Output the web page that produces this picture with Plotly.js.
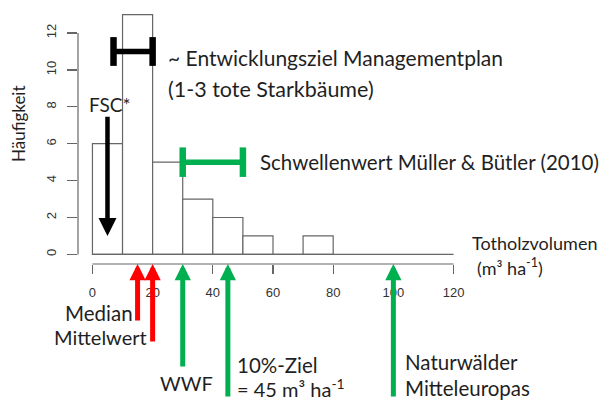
<!DOCTYPE html>
<html>
<head>
<meta charset="utf-8">
<script src="https://cdn.plot.ly/plotly-3.0.1.min.js"></script>
<style>html,body{margin:0;padding:0;background:#fff;}#chart{width:606px;height:401px;}</style>
</head>
<body>
<div id="chart"></div>
<script>
// ---- data ----
const binEdges = [0, 10, 20, 30, 40, 50, 60, 70, 80];
const counts = [6, 13, 5, 3, 2, 1, 0, 1];
const xTicks = [0, 20, 40, 60, 80, 100, 120];
const yTicks = [0, 2, 4, 6, 8, 10, 12];
const refLabels = ['Median', 'Mittelwert', 'WWF', '10%-Ziel', 'Naturwälder'];
const refValues = [15, 20, 30, 45, 100];
const refColors = ['#FF0000', '#FF0000', '#00B050', '#00B050', '#00B050'];
const fscX = 5;
const fscFromTo = [7.55, 1];
const entwicklungRange = [7, 20];
const entwicklungLevel = 11;
const schwellenRange = [30, 50];
const schwellenLevel = 5;

// ---- layout helpers ----
const W = 606, H = 401;
const M = {l: 78, r: 138, t: 5, b: 137};
const pw = W - M.l - M.r, ph = H - M.t - M.b;
function P(px, py) { return {x: (px - M.l) / pw, y: (H - M.b - py) / ph}; }
const FONT = 'Lato, sans-serif';
const TXT = '#1f1f1f';
const GRAY = '#666666';

const centers = counts.map((c, i) => (binEdges[i] + binEdges[i + 1]) / 2);
const widths = counts.map((c, i) => binEdges[i + 1] - binEdges[i]);

const traces = [{
  type: 'bar', x: centers, y: counts, width: widths,
  marker: {color: 'white', line: {color: GRAY, width: 1.2}},
  hoverinfo: 'skip', showlegend: false
}];

const shapes = [];
// axes lines (R style, spanning tick range only)
shapes.push({type: 'line', xref: 'x', yref: 'paper', x0: xTicks[0], x1: xTicks[xTicks.length - 1], y0: 0, y1: 0, line: {color: GRAY, width: 1.2}});
shapes.push({type: 'line', xref: 'paper', yref: 'y', x0: 0, x1: 0, y0: yTicks[0], y1: yTicks[yTicks.length - 1], line: {color: GRAY, width: 1.2}});
// histogram baseline
shapes.push({type: 'line', xref: 'x', yref: 'y', x0: binEdges[0], x1: xTicks[xTicks.length - 1], y0: 0, y1: 0, line: {color: GRAY, width: 1.2}});
// brackets
function bracket(r, lvl, half, color) {
  shapes.push({type: 'line', xref: 'x', yref: 'y', x0: r[0], x1: r[1], y0: lvl, y1: lvl, line: {color: color, width: 5.5}});
  shapes.push({type: 'line', xref: 'x', yref: 'y', x0: r[0], x1: r[0], y0: lvl - half, y1: lvl + half, line: {color: color, width: 6.5}});
  shapes.push({type: 'line', xref: 'x', yref: 'y', x0: r[1], x1: r[1], y0: lvl - half, y1: lvl + half, line: {color: color, width: 6.5}});
}
bracket(entwicklungRange, entwicklungLevel, 0.78, '#000000');
bracket(schwellenRange, schwellenLevel, 0.8, '#00B050');

const ann = [];
// reference arrows below the x axis
const tails = [58, 79, 104, 134, 134];
refValues.forEach((v, i) => {
  ann.push({x: v, y: 0, xref: 'x', yref: 'paper', text: '', showarrow: true,
    ax: 0, ay: tails[i], arrowcolor: refColors[i], arrowwidth: 5, arrowhead: 2, arrowsize: 0.65});
});
// FSC arrow
ann.push({x: fscX, y: fscFromTo[1], xref: 'x', yref: 'y', axref: 'x', ayref: 'y', ax: fscX, ay: fscFromTo[0],
  text: '', showarrow: true, arrowcolor: '#000', arrowwidth: 4.5, arrowhead: 2, arrowsize: 0.8});

function txt(text, px, py, size, xanchor, angle) {
  const p = P(px, py);
  ann.push({x: p.x, y: p.y, xref: 'paper', yref: 'paper', text: text, showarrow: false,
    xanchor: xanchor || 'left', yanchor: 'middle', textangle: angle || 0,
    font: {family: FONT, size: size, color: TXT}});
}
txt('~ Entwicklungsziel Managementplan', 166, 57, 21);
txt('(1-3 tote Starkbäume)', 166, 89, 21.5);
txt('FSC*', 110, 104, 19, 'center');
txt('Schwellenwert Müller &amp; Bütler (2010)', 258, 162, 20.5);
txt('Totholzvolumen', 470, 243, 18);
txt('(m³ ha<sup>-1</sup>)', 475, 267, 18);
txt(refLabels[0], 63, 313, 20.5);
txt(refLabels[1], 52, 337, 20);
txt(refLabels[2], 158, 383, 20);
txt(refLabels[3], 235, 365, 20.5);
txt('= 45 m³ ha<sup>-1</sup>', 235, 388, 20);
txt(refLabels[4], 403, 362, 20.5);
txt('Mitteleuropas', 403, 388, 20.5);
// y axis title
txt('Häufigkeit', 19, 124, 17, 'center', -90);

const layout = {
  width: W, height: H, margin: M,
  paper_bgcolor: '#fff', plot_bgcolor: '#fff',
  showlegend: false, bargap: 0,
  xaxis: {range: [-4.8, 124.8], tickvals: xTicks, ticktext: xTicks.map(String),
    ticks: 'outside', ticklen: 9, tickwidth: 1.2, tickcolor: GRAY,
    showgrid: false, zeroline: false, showline: false, ticklabelstandoff: 7,
    tickfont: {family: 'Liberation Sans, Arial, sans-serif', size: 13, color: '#333'}},
  yaxis: {range: [-0.52, 13.52], tickvals: yTicks, ticktext: yTicks.map(String),
    ticks: 'outside', ticklen: 10, tickwidth: 1.2, tickcolor: GRAY, tickangle: -90,
    showgrid: false, zeroline: false, showline: false, ticklabelstandoff: 6,
    tickfont: {family: 'Liberation Sans, Arial, sans-serif', size: 13, color: '#333'}},
  shapes: shapes, annotations: ann
};
Plotly.newPlot('chart', traces, layout, {staticPlot: true, displayModeBar: false});
</script>
</body>
</html>
